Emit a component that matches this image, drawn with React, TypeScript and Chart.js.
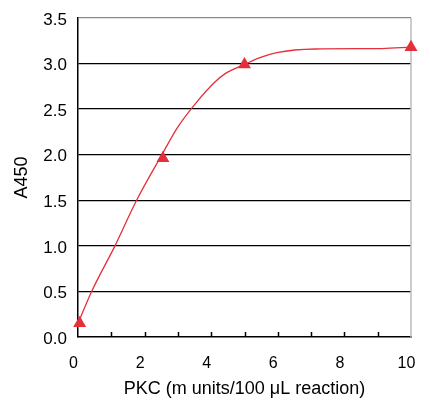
import React, { useEffect, useRef } from "react";
import { Chart, registerables } from "chart.js";

Chart.register(...registerables);

const curveX = [0.0, 0.41, 1.11, 1.76, 2.52, 3.01, 3.57, 4.12, 4.42, 5.0, 5.42, 5.97, 7.12, 9.13, 10.0, 10.58];
const curveY = [0.15, 0.5, 1.0, 1.5, 2.0, 2.31, 2.58, 2.8, 2.89, 2.99, 3.06, 3.12, 3.16, 3.165, 3.18, 3.19];
const pointX = [0.05, 2.55, 5.0, 10.0];
const pointY = [0.15, 1.96, 2.99, 3.18];
const xTickValues = [0, 2, 4, 6, 8, 10];
const minorTickValues = [1, 2, 3, 4, 5, 6, 7, 8, 9];
const yTickValues = [0, 0.5, 1.0, 1.5, 2.0, 2.5, 3.0, 3.5];

const RED = "#e3303b";
const FONT = "'Liberation Sans', Arial, sans-serif";

const innerTicks = {
  id: "innerTicks",
  afterDatasetsDraw(chart: any) {
    const { ctx, scales, chartArea } = chart;
    const xs = scales.x;
    ctx.save();
    ctx.strokeStyle = "#000";
    ctx.lineWidth = 1.5;
    minorTickValues.forEach((v) => {
      const px = Math.round(xs.getPixelForValue(v)) + 0.5;
      ctx.beginPath();
      ctx.moveTo(px, chartArea.bottom);
      ctx.lineTo(px, chartArea.bottom - 5);
      ctx.stroke();
    });
    ctx.restore();
  },
};

export default function App() {
  const ref = useRef<HTMLCanvasElement>(null);
  useEffect(() => {
    document.body.style.margin = "0";
    const chart = new Chart(ref.current as HTMLCanvasElement, {
      type: "scatter",
      data: {
        datasets: [
          {
            type: "line",
            data: curveX.map((x, i) => ({ x, y: curveY[i] })),
            borderColor: RED,
            borderWidth: 1.3,
            pointRadius: 0,
            cubicInterpolationMode: "monotone",
            clip: false as any,
            fill: false,
          },
          {
            data: pointX.map((x, i) => ({ x, y: pointY[i] })),
            pointStyle: "triangle",
            pointRadius: 7.5,
            backgroundColor: RED,
            borderColor: RED,
            borderWidth: 0,
            clip: false as any,
          },
        ],
      },
      options: {
        animation: false,
        responsive: false,
        layout: { padding: { left: 11, right: 19, top: 18, bottom: 0 } },
        plugins: { legend: { display: false }, tooltip: { enabled: false } },
        scales: {
          x: {
            type: "linear",
            min: 0,
            max: 10,
            afterBuildTicks: (s: any) => {
              s.ticks = xTickValues.map((v) => ({ value: v }));
            },
            afterFit: (s: any) => {
              s.height = 63;
              s.paddingRight = 19;
              s.paddingLeft = 10;
            },
            grid: { display: false, drawTicks: false },
            border: { display: true, color: "#000", width: 1.5 },
            ticks: {
              padding: 17.4,
              labelOffset: -4.5,
              color: "#000",
              font: { family: FONT, size: 16 },
              callback: (v: any) => String(v),
            },
            title: {
              display: true,
              text: "PKC (m units/100 μL reaction)",
              color: "#000",
              font: { family: FONT, size: 18 },
              padding: { top: 0, bottom: 0 },
            },
          },
          y: {
            type: "linear",
            min: 0,
            max: 3.5,
            afterBuildTicks: (s: any) => {
              s.ticks = yTickValues.map((v) => ({ value: v }));
            },
            afterFit: (s: any) => {
              s.width = 67;
              s.paddingTop = 0;
            },
            grid: {
              drawTicks: false,
              color: (c: any) => (c.tick && c.tick.value === 3.5 ? "#8a8a8a" : c.tick && c.tick.value === 0 ? "rgba(0,0,0,0)" : "#000"),
              lineWidth: 1.3,
            },
            border: { display: true, color: "#000", width: 1.5 },
            ticks: {
              padding: 11,
              labelOffset: 2,
              color: "#000",
              font: { family: FONT, size: 17 },
              callback: (v: any) => Number(v).toFixed(1),
            },
            title: {
              display: true,
              text: "A450",
              color: "#000",
              font: { family: FONT, size: 18 },
              padding: { top: 0, bottom: 2 },
            },
          },
        },
      },
      plugins: [
        innerTicks,
        {
          id: "rightBorder",
          beforeDatasetsDraw(chart: any) {
            const { ctx, chartArea } = chart;
            ctx.save();
            ctx.strokeStyle = "#bdbdbd";
            ctx.lineWidth = 1.5;
            ctx.beginPath();
            ctx.moveTo(chartArea.right, chartArea.top);
            ctx.lineTo(chartArea.right, chartArea.bottom);
            ctx.stroke();
            ctx.restore();
          },
        },
      ],
    } as any);
    return () => chart.destroy();
  }, []);
  return (
    <div style={{ position: "absolute", left: 0, top: 0, width: 430, height: 400 }}>
      <canvas ref={ref} width={430} height={400} />
    </div>
  );
}
